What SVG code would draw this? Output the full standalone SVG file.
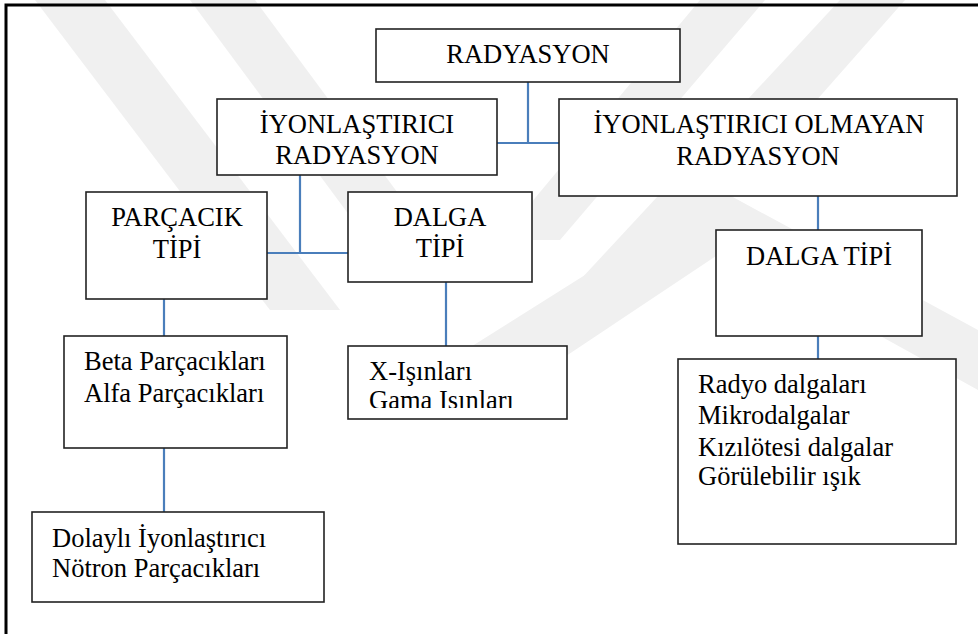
<svg xmlns="http://www.w3.org/2000/svg" width="978" height="634" viewBox="0 0 978 634">
<style>
.box{fill:#fff;stroke:#222;stroke-width:1.6}
.t{font-family:"Liberation Serif","Times New Roman",serif;font-size:26.5px;fill:#000}
.c{text-anchor:middle}
.wm{fill:#f0f0f0}
.con{stroke:#4a7ebb;stroke-width:2.2;fill:none}
</style>
<defs>
<clipPath id="clipX"><rect x="348" y="346" width="219" height="62"/></clipPath>
</defs>
<rect width="978" height="634" fill="#fff"/>
<g id="watermark">
<polygon class="wm" points="35,0 105,0 340,310 270,310"/>
<polygon class="wm" points="190,0 255,0 440,250 375,250"/>
<polygon class="wm" points="700,0 765,0 560,240 500,240"/>
<polygon class="wm" points="840,0 905,0 640,300 580,280"/>
<polygon class="wm" points="450,360 720,190 978,330 978,390 725,250 500,400"/>
</g>
<path d="M6,634 V5 H978" fill="none" stroke="#000" stroke-width="3"/>
<g id="connectors">
<path class="con" d="M528,82 V143 M497,143 H559"/>
<path class="con" d="M300,175 V253 M267,253 H348"/>
<path class="con" d="M818,196 V230"/>
<path class="con" d="M818,336 V359"/>
<path class="con" d="M164,299 V336"/>
<path class="con" d="M164,448 V512"/>
<path class="con" d="M446,282 V346"/>
</g>
<g id="radyasyon">
<rect class="box" x="376" y="29" width="304" height="53"/>
<text class="t c" x="528" y="63">RADYASYON</text>
</g>
<g id="iyonlastirici">
<rect class="box" x="217" y="99" width="280" height="76"/>
<text class="t c" x="357" y="133">İYONLAŞTIRICI</text>
<text class="t c" x="357" y="164">RADYASYON</text>
</g>
<g id="iyonlastirici-olmayan">
<rect class="box" x="559" y="99" width="398" height="97"/>
<text class="t c" x="759" y="133">İYONLAŞTIRICI OLMAYAN</text>
<text class="t c" x="758" y="165">RADYASYON</text>
</g>
<g id="parcacik-tipi">
<rect class="box" x="86" y="192" width="181" height="107"/>
<text class="t c" x="177" y="226">PARÇACIK</text>
<text class="t c" x="177" y="258">TİPİ</text>
</g>
<g id="dalga-tipi-1">
<rect class="box" x="348" y="192" width="184" height="90"/>
<text class="t c" x="440" y="226">DALGA</text>
<text class="t c" x="440" y="257">TİPİ</text>
</g>
<g id="dalga-tipi-2">
<rect class="box" x="716" y="230" width="206" height="106"/>
<text class="t c" x="819" y="265">DALGA TİPİ</text>
</g>
<g id="beta-alfa">
<rect class="box" x="64" y="336" width="223" height="112"/>
<text class="t" x="84" y="370">Beta Parçacıkları</text>
<text class="t" x="84" y="402">Alfa Parçacıkları</text>
</g>
<g id="xray-gama">
<rect class="box" x="348" y="346" width="219" height="73"/>
<text class="t" x="369" y="380">X-Işınları</text>
<text class="t" x="369" y="409" clip-path="url(#clipX)">Gama Isınları</text>
</g>
<g id="dolayli">
<rect class="box" x="32" y="512" width="292" height="90"/>
<text class="t" x="52" y="547">Dolaylı İyonlaştırıcı</text>
<text class="t" x="52" y="577">Nötron Parçacıkları</text>
</g>
<g id="dalga-listesi">
<rect class="box" x="678" y="359" width="278" height="185"/>
<text class="t" x="698" y="393">Radyo dalgaları</text>
<text class="t" x="698" y="424">Mikrodalgalar</text>
<text class="t" x="698" y="456">Kızılötesi dalgalar</text>
<text class="t" x="698" y="485">Görülebilir ışık</text>
</g>
</svg>
